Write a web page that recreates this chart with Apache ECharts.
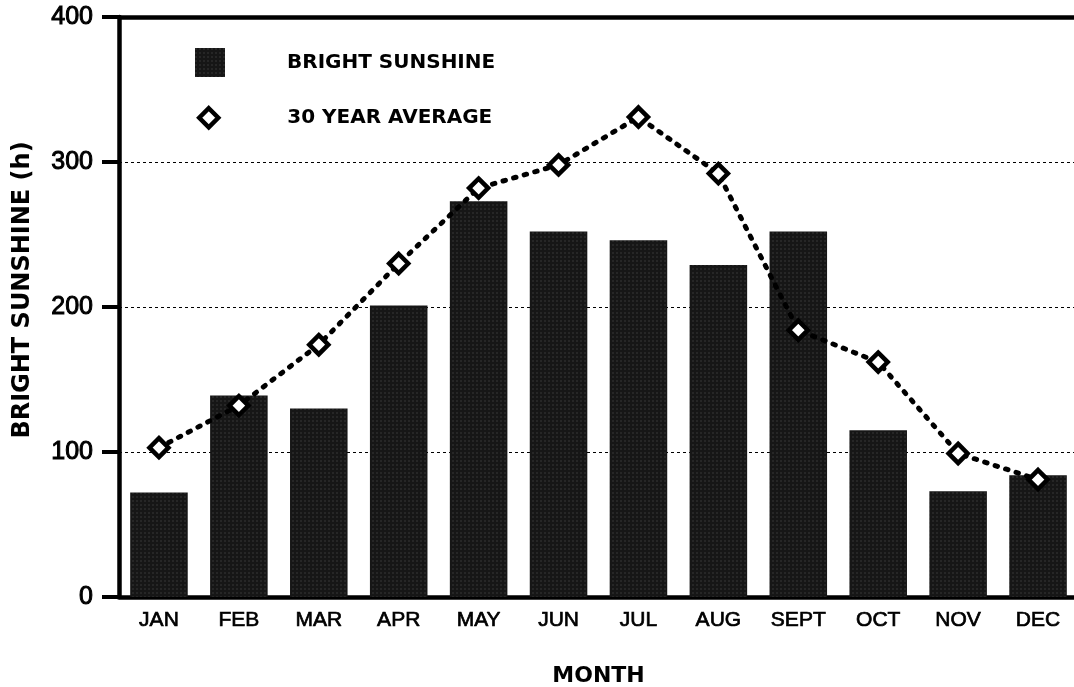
<!DOCTYPE html>
<html>
<head>
<meta charset="utf-8">
<script src="https://cdn.jsdelivr.net/npm/echarts@6/dist/echarts.min.js"></script>
<style>
  html, body { margin: 0; padding: 0; background: #fff; }
  #chart { width: 1074px; height: 687px; }
</style>
</head>
<body>
<div id="chart"></div>
<script>
  var months = ['JAN', 'FEB', 'MAR', 'APR', 'MAY', 'JUN', 'JUL', 'AUG', 'SEPT', 'OCT', 'NOV', 'DEC'];
  var brightSunshine = [72, 139, 130, 201, 273, 252, 246, 229, 252, 115, 73, 84];
  var thirtyYearAvg = [103, 132, 174, 230, 282, 298, 331, 292, 184, 162, 99, 81];
  var yTicks = [0, 100, 200, 300, 400];

  var font = "'Liberation Sans', Arial, Helvetica, sans-serif";
  var boldFont = "'DejaVu Sans', 'Liberation Sans', sans-serif";

  var chart = echarts.init(document.getElementById('chart'), null, { renderer: 'canvas' });
  chart.setOption({
    animation: false,
    backgroundColor: '#fff',
    grid: {
      left: 119,
      right: -4,
      top: 17,
      bottom: 90,
      containLabel: false,
      outerBoundsMode: 'none'
    },
    legend: [{
      data: [{ name: 'BRIGHT SUNSHINE', icon: 'rect' }],
      left: 190,
      top: 43,
      itemWidth: 30,
      itemHeight: 29,
      textStyle: { fontFamily: boldFont, fontWeight: 'bold', fontSize: 20, color: '#000', padding: [0, 0, 0, 57] }
    }, {
      data: [{ name: '30 YEAR AVERAGE', icon: 'diamond' }],
      left: 192,
      top: 101,
      itemWidth: 19,
      itemHeight: 19,
      itemStyle: { color: '#fff', borderColor: '#000', borderWidth: 4.5 },
      textStyle: { fontFamily: boldFont, fontWeight: 'bold', fontSize: 20, color: '#000', padding: [0, 0, 0, 64] }
    }],
    xAxis: {
      type: 'category',
      data: months,
      name: 'MONTH',
      nameLocation: 'middle',
      nameGap: 68,
      nameTextStyle: { fontFamily: boldFont, fontWeight: 'bold', fontSize: 22, color: '#000' },
      axisLine: { lineStyle: { color: '#000', width: 4.5 } },
      axisTick: { show: false },
      axisLabel: { fontFamily: font, fontSize: 21, color: '#000', margin: 13, textBorderColor: '#000', textBorderWidth: 0.7 }
    },
    yAxis: {
      type: 'value',
      min: yTicks[0],
      max: yTicks[yTicks.length - 1],
      interval: 100,
      name: 'BRIGHT SUNSHINE (h)',
      nameLocation: 'middle',
      nameGap: 84,
      nameTextStyle: { fontFamily: boldFont, fontWeight: 'bold', fontSize: 24, color: '#000', padding: [0, 0, 0, 34] },
      axisLine: { show: true, lineStyle: { color: '#000', width: 4.5 } },
      axisTick: { show: true, length: 17, lineStyle: { color: '#000', width: 4 } },
      axisLabel: { fontFamily: font, fontSize: 25, color: '#000', margin: 26, textBorderColor: '#000', textBorderWidth: 1 },
      splitLine: { show: true, lineStyle: { color: '#000', width: 1, type: [3, 3] } }
    },
    series: [{
      name: 'BRIGHT SUNSHINE',
      type: 'bar',
      data: brightSunshine,
      barWidth: '72%',
      itemStyle: {
        color: '#161616',
        decal: {
          symbol: 'rect',
          symbolSize: 0.5,
          color: 'rgba(255,255,255,0.28)',
          dashArrayX: [2, 2],
          dashArrayY: [2, 2]
        }
      },
      z: 2
    }, {
      name: '30 YEAR AVERAGE',
      type: 'line',
      data: thirtyYearAvg,
      symbol: 'diamond',
      symbolSize: 19,
      lineStyle: { color: '#000', width: 5, type: [2.5, 8.5], cap: 'round' },
      itemStyle: { color: '#fff', borderColor: '#000', borderWidth: 4.5 },
      markLine: {
        silent: true,
        symbol: 'none',
        label: { show: false },
        lineStyle: { color: '#000', width: 4.5, type: 'solid' },
        data: [{ yAxis: yTicks[yTicks.length - 1] }]
      },
      z: 3
    }]
  });
</script>
</body>
</html>
